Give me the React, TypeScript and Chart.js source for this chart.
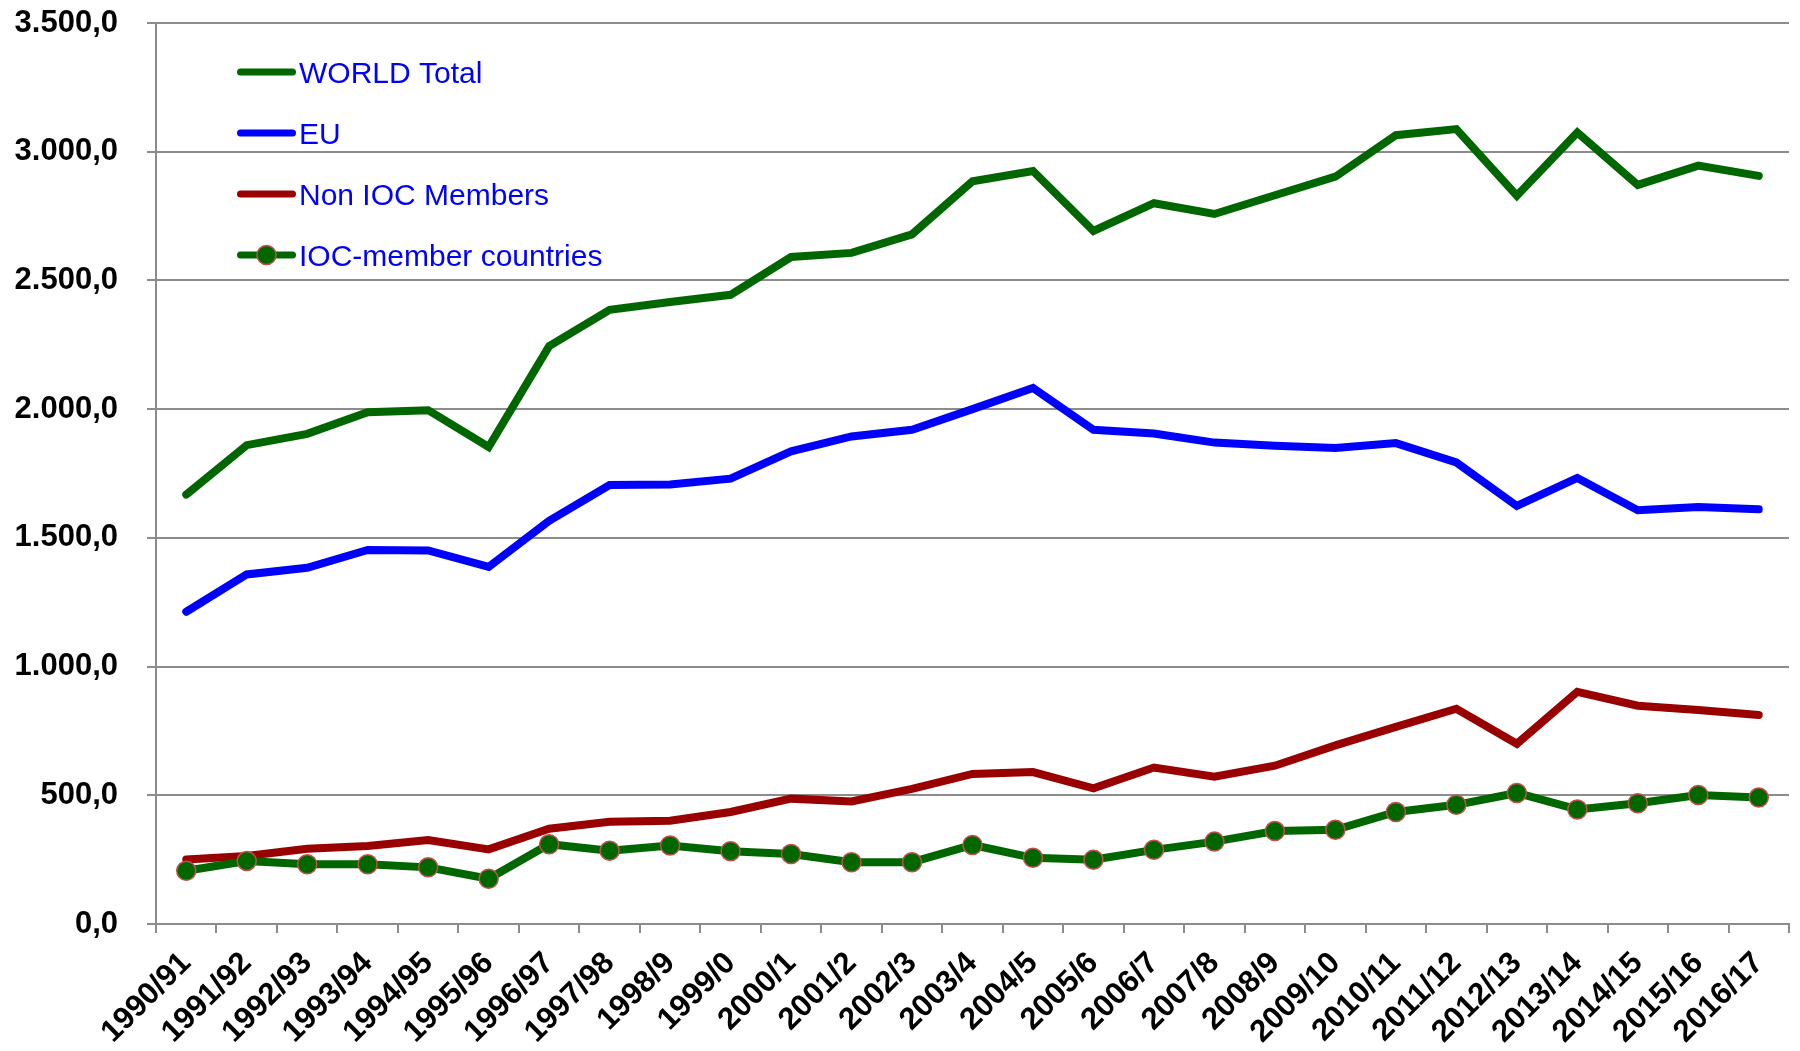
import React, { useEffect, useRef } from "react";
import { Chart, registerables } from "chart.js";

Chart.register(...registerables);

const categories = [
  "1990/91", "1991/92", "1992/93", "1993/94", "1994/95", "1995/96", "1996/97",
  "1997/98", "1998/9", "1999/0", "2000/1", "2001/2", "2002/3", "2003/4",
  "2004/5", "2005/6", "2006/7", "2007/8", "2008/9", "2009/10", "2010/11",
  "2011/12", "2012/13", "2013/14", "2014/15", "2015/16", "2016/17",
];

const worldTotal = [
  1668, 1860, 1904, 1988, 1996, 1853, 2245, 2386, 2416, 2444, 2591, 2607, 2679,
  2885, 2925, 2692, 2800, 2758, 2831, 2903, 3064, 3088, 2829, 3075, 2871, 2946, 2906,
];
const euValues = [
  1213, 1358, 1384, 1453, 1451, 1387, 1566, 1705, 1707, 1730, 1836, 1894, 1920,
  2000, 2082, 1920, 1905, 1870, 1858, 1849, 1868, 1793, 1624, 1733, 1607, 1620, 1611,
];
const nonIocMembers = [
  251, 264, 292, 303, 326, 290, 370, 397, 401, 435, 487, 476, 525, 583, 590, 527,
  608, 572, 615, 694, 766, 836, 700, 902, 848, 831, 812,
];
const iocMembers = [
  207, 245, 232, 232, 220, 176, 310, 285, 305, 283, 272, 240, 240, 307, 257, 250,
  288, 320, 361, 366, 435, 463, 509, 445, 469, 501, 491,
];

const seriesLabels = ["WORLD Total", "EU", "Non IOC Members", "IOC-member countries"];
const yTickMin = 0;
const yTickMax = 3500;
const yTickStep = 500;

const GREEN = "#006600";
const BLUE = "#0000FF";
const RED = "#990000";
const MARKER_BORDER = "#C0504D";
const GRID = "#8C8C8C";
const FONT = "'Liberation Sans', Arial, sans-serif";

function formatEU(v: number): string {
  const fixed = v.toFixed(1);
  const [intPart, dec] = fixed.split(".");
  const withDots = intPart.replace(/\B(?=(\d{3})+(?!\d))/g, ".");
  return withDots + "," + dec;
}

const legendPlugin = {
  id: "customLegend",
  afterDraw(chart: any) {
    const ctx = chart.ctx;
    const x0 = 240.5;
    const x1 = 292.5;
    const rows = [72, 133, 194, 255];
    ctx.save();
    chart.data.datasets.forEach((ds: any, i: number) => {
      const y = rows[i];
      ctx.strokeStyle = ds.borderColor;
      ctx.lineWidth = 7;
      ctx.lineCap = "round";
      ctx.beginPath();
      ctx.moveTo(x0, y);
      ctx.lineTo(x1, y);
      ctx.stroke();
      if (ds.pointRadius && ds.pointRadius > 0) {
        ctx.beginPath();
        ctx.arc((x0 + x1) / 2, y, ds.pointRadius, 0, Math.PI * 2);
        ctx.fillStyle = ds.pointBackgroundColor;
        ctx.fill();
        ctx.lineWidth = ds.pointBorderWidth;
        ctx.strokeStyle = ds.pointBorderColor;
        ctx.stroke();
      }
      ctx.fillStyle = BLUE;
      ctx.font = `30px ${FONT}`;
      ctx.textAlign = "left";
      ctx.textBaseline = "alphabetic";
      ctx.fillText(ds.label, 299, y + 10.7);
    });
    ctx.restore();
  },
};

export default function App() {
  const ref = useRef<HTMLCanvasElement | null>(null);

  useEffect(() => {
    if (!ref.current) return;
    const lineCommon = {
      borderWidth: 8,
      tension: 0,
      fill: false,
      borderCapStyle: "round" as const,
      borderJoinStyle: "miter" as const,
    };
    const chart = new Chart(ref.current, {
      type: "line",
      data: {
        labels: categories,
        datasets: [
          { ...lineCommon, label: seriesLabels[0], data: worldTotal, borderColor: GREEN, backgroundColor: GREEN, pointRadius: 0, order: 3 },
          { ...lineCommon, label: seriesLabels[1], data: euValues, borderColor: BLUE, backgroundColor: BLUE, pointRadius: 0, order: 2 },
          { ...lineCommon, label: seriesLabels[2], data: nonIocMembers, borderColor: RED, backgroundColor: RED, pointRadius: 0, order: 1 },
          {
            ...lineCommon,
            label: seriesLabels[3],
            data: iocMembers,
            borderColor: GREEN,
            backgroundColor: GREEN,
            pointRadius: 9.5,
            pointBackgroundColor: GREEN,
            pointBorderColor: MARKER_BORDER,
            pointBorderWidth: 1.5,
            order: 0,
          },
        ],
      },
      options: {
        responsive: false,
        animation: false,
        devicePixelRatio: 1,
        layout: { padding: { top: 23, right: 8, left: 0, bottom: 0 } },
        plugins: {
          legend: { display: false },
          tooltip: { enabled: false },
        },
        scales: {
          x: {
            type: "category",
            offset: true,
            grid: {
              offset: true,
              drawOnChartArea: false,
              drawTicks: true,
              tickLength: 9,
              color: GRID,
              lineWidth: 2,
            },
            border: { display: true, color: GRID, width: 2 },
            ticks: {
              autoSkip: false,
              maxRotation: 45,
              minRotation: 45,
              padding: 12,
              color: "#000",
              font: { family: FONT, size: 31, weight: "bold" },
            },
            afterFit(scale: any) {
              scale.height = 127;
              scale.paddingLeft = 0;
              scale.paddingRight = 0;
            },
          },
          y: {
            min: yTickMin,
            max: yTickMax,
            grid: {
              color: GRID,
              lineWidth: 2,
              drawTicks: true,
              tickLength: 9,
            },
            border: { display: true, color: GRID, width: 2 },
            ticks: {
              stepSize: yTickStep,
              padding: 29,
              color: "#000",
              font: { family: FONT, size: 31, weight: "bold" },
              callback: (v: any) => formatEU(Number(v)),
            },
            afterFit(scale: any) {
              scale.width = 156;
              scale.paddingTop = 0;
              scale.paddingBottom = 0;
            },
          },
        },
      },
      plugins: [legendPlugin],
    });
    return () => chart.destroy();
  }, []);

  return (
    <div style={{ position: "fixed", left: 0, top: 0, width: 1800, height: 1051, background: "#fff" }}>
      <canvas ref={ref} width={1800} height={1051} style={{ display: "block" }} />
    </div>
  );
}
